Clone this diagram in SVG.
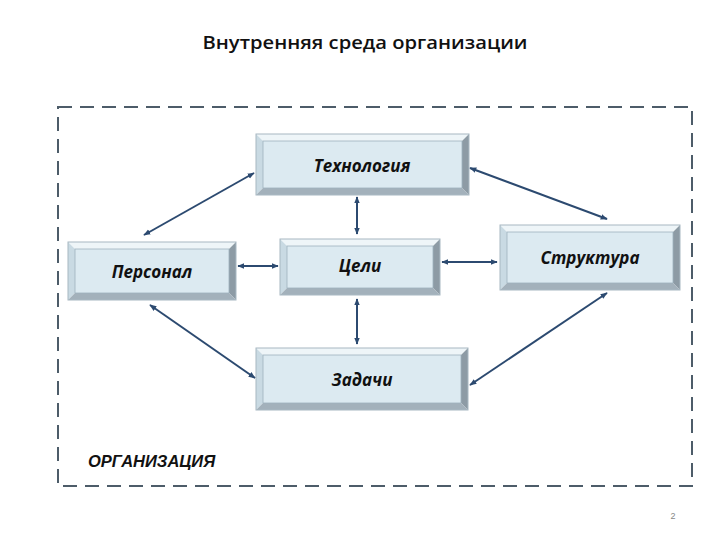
<svg xmlns="http://www.w3.org/2000/svg" width="720" height="540" viewBox="0 0 720 540">
<defs>
<marker id="ah" viewBox="0 0 10 10" refX="9" refY="5" markerWidth="7" markerHeight="7" orient="auto-start-reverse" markerUnits="userSpaceOnUse">
<path d="M0,1 L10,5 L0,9 Z" fill="#2c4a70"/>
</marker>
</defs>
<style>
.face{fill:#dceaf1;stroke:#9fb2bf;stroke-width:0.8}
.top{fill:#eef5f8}
.left{fill:#c9dae3}
.right{fill:#8d9ba5}
.bot{fill:#a3b1bb}
.outer{fill:none;stroke:#a8b8c2;stroke-width:1}
.lbl{font-family:"Open Sans","Liberation Sans",sans-serif;font-weight:bold;font-style:italic;font-size:17px;fill:#111;text-anchor:middle}
.conn line{stroke:#2c4a70;stroke-width:2;marker-start:url(#ah);marker-end:url(#ah)}
</style>
<rect width="720" height="540" fill="#fff"/>
<text x="365" y="49" font-family="'Open Sans','Liberation Sans',sans-serif" font-size="18.5" font-weight="600" text-anchor="middle" textLength="325" lengthAdjust="spacingAndGlyphs" fill="#111">Внутренняя среда организации</text>
<rect x="58" y="107" width="634" height="379" fill="none" stroke="#4d5c69" stroke-width="2" stroke-dasharray="14,8"/>
<text x="88" y="467" font-family="'Liberation Sans',sans-serif" font-size="16.5" font-weight="bold" font-style="italic" fill="#111">ОРГАНИЗАЦИЯ</text>
<text x="673" y="519" font-family="'Liberation Sans',sans-serif" font-size="9" fill="#888" text-anchor="middle">2</text>

<g id="tech">
<polygon class="top" points="256,134 469,134 462,141 263,141"/>
<polygon class="left" points="256,134 263,141 263,188 256,195"/>
<polygon class="right" points="469,134 469,195 462,188 462,141"/>
<polygon class="bot" points="256,195 469,195 462,188 263,188"/>
<rect class="face" x="263" y="141" width="199" height="47"/>
<rect class="outer" x="256" y="134" width="213" height="61"/>
<text class="lbl" x="362" y="172">Технология</text>
</g>
<g id="personal">
<polygon class="top" points="68,242 236,242 229,249 75,249"/>
<polygon class="left" points="68,242 75,249 75,293 68,300"/>
<polygon class="right" points="236,242 236,300 229,293 229,249"/>
<polygon class="bot" points="68,300 236,300 229,293 75,293"/>
<rect class="face" x="75" y="249" width="154" height="44"/>
<rect class="outer" x="68" y="242" width="168" height="58"/>
<text class="lbl" x="152" y="278">Персонал</text>
</g>
<g id="goals">
<polygon class="top" points="280,239 440,239 433,246 287,246"/>
<polygon class="left" points="280,239 287,246 287,288 280,295"/>
<polygon class="right" points="440,239 440,295 433,288 433,246"/>
<polygon class="bot" points="280,295 440,295 433,288 287,288"/>
<rect class="face" x="287" y="246" width="146" height="42"/>
<rect class="outer" x="280" y="239" width="160" height="56"/>
<text class="lbl" x="360" y="272">Цели</text>
</g>
<g id="structure">
<polygon class="top" points="500,225 680,225 673,232 507,232"/>
<polygon class="left" points="500,225 507,232 507,283 500,290"/>
<polygon class="right" points="680,225 680,290 673,283 673,232"/>
<polygon class="bot" points="500,290 680,290 673,283 507,283"/>
<rect class="face" x="507" y="232" width="166" height="51"/>
<rect class="outer" x="500" y="225" width="180" height="65"/>
<text class="lbl" x="590" y="264">Структура</text>
</g>
<g id="tasks">
<polygon class="top" points="256,348 468,348 461,355 263,355"/>
<polygon class="left" points="256,348 263,355 263,403 256,410"/>
<polygon class="right" points="468,348 468,410 461,403 461,355"/>
<polygon class="bot" points="256,410 468,410 461,403 263,403"/>
<rect class="face" x="263" y="355" width="198" height="48"/>
<rect class="outer" x="256" y="348" width="212" height="62"/>
<text class="lbl" x="362" y="386">Задачи</text>
</g>

<g id="connectors" class="conn">
<line x1="254" y1="173" x2="144" y2="235"/>
<line x1="470" y1="168" x2="607" y2="219"/>
<line x1="357" y1="197" x2="357" y2="234"/>
<line x1="238" y1="266" x2="278" y2="266"/>
<line x1="442" y1="262" x2="497" y2="262"/>
<line x1="357" y1="299" x2="357" y2="344"/>
<line x1="150" y1="305" x2="255" y2="378"/>
<line x1="607" y1="293" x2="470" y2="385"/>
</g>
</svg>
